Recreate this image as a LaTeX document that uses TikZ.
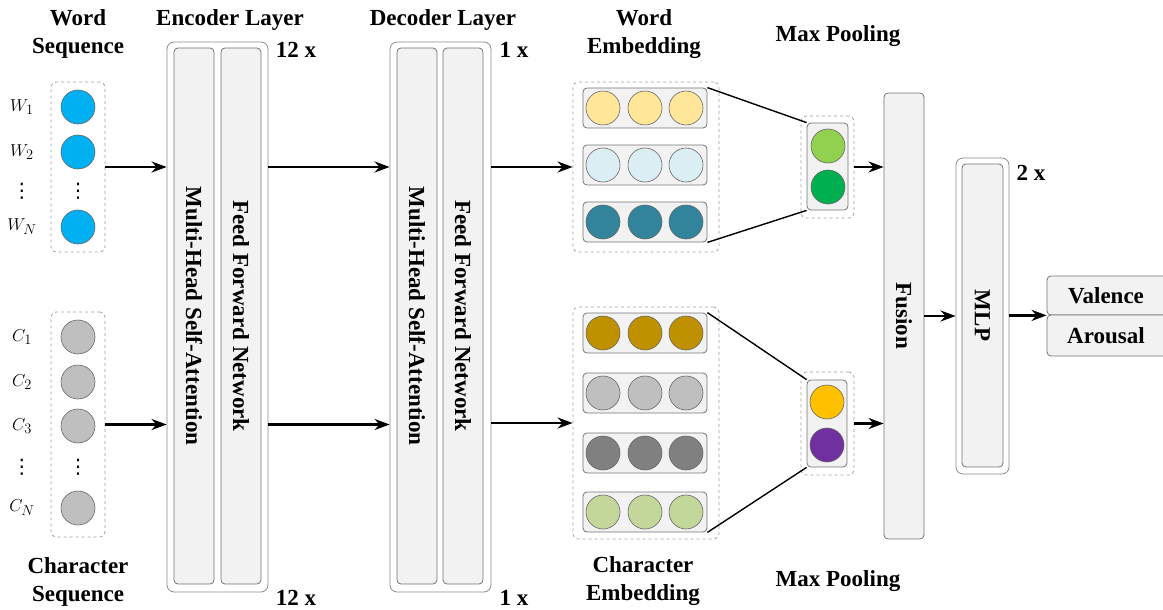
\documentclass[tikz,border=0pt]{standalone}
\usepackage{fontspec}
\setmainfont{Liberation Serif}
\newfontfamily\djv{DejaVu Sans}
\usetikzlibrary{arrows.meta,fit,calc}
\definecolor{wblue}{HTML}{00B0F0}
\definecolor{cgray}{HTML}{BFBFBF}
\definecolor{eyel}{HTML}{FFE699}
\definecolor{eltb}{HTML}{DAEEF3}
\definecolor{eteal}{HTML}{31849B}
\definecolor{egold}{HTML}{BF9000}
\definecolor{elgr}{HTML}{BFBFBF}
\definecolor{edgr}{HTML}{808080}
\definecolor{elgn}{HTML}{C4D79B}
\definecolor{pgn1}{HTML}{92D050}
\definecolor{pgn2}{HTML}{00B050}
\definecolor{porg}{HTML}{FFC000}
\definecolor{ppur}{HTML}{7030A0}
\definecolor{panelfill}{HTML}{F2F2F2}
\begin{document}
\begin{tikzpicture}[x=1pt,y=-1pt,
  dashbox/.style={draw=gray!75, dashed, rounded corners=5pt, line width=0.8pt, inner sep=0pt},
  panel/.style={draw=black!55, fill=panelfill, rounded corners=4pt, line width=0.8pt, inner sep=0pt},
  outerbox/.style={draw=black!45, fill=white, rounded corners=7pt, line width=0.8pt, inner sep=0pt},
  ball/.style={circle, draw=black!60, line width=0.6pt, minimum size=34pt, inner sep=0pt},
  arr/.style={-{Stealth[length=15pt,width=11pt]}, line width=2.8pt},
  ln/.style={line width=1.4pt},
  ttl/.style={font=\bfseries\fontsize{23}{28}\selectfont, align=center},
  vtxt/.style={font=\bfseries\fontsize{23}{24}\selectfont, rotate=-90},
  lbl/.style={font=\fontsize{19}{20}\selectfont, inner sep=0pt},
  dots/.style={font=\djv\fontsize{20}{20}\selectfont, inner sep=0pt}
]
\useasboundingbox (0,0) rectangle (1163,610);

% ---------- Word sequence ----------
\node[ttl] (wsT) at (78,34) {Word\\Sequence};
\node[dashbox, fit={(51,82) (105,252)}] (wseq) {};
\node[ball, fill=wblue] (w1) at (78,107) {};
\node[ball, fill=wblue] (w2) at (78,152) {};
\node[dots] (wd) at (78,191) {⋮};
\node[ball, fill=wblue] (wn) at (78,227) {};
\node[lbl] (lw1) at (22,107) {$W_1$};
\node[lbl] (lw2) at (22,152) {$W_2$};
\node[dots] (lwd) at (22,191) {⋮};
\node[lbl] (lwn) at (22,227) {$W_N$};

% ---------- Character sequence ----------
\node[dashbox, fit={(51,312) (105,537)}] (cseq) {};
\node[ball, fill=cgray] (c1) at (78,337) {};
\node[ball, fill=cgray] (c2) at (78,382) {};
\node[ball, fill=cgray] (c3) at (78,426) {};
\node[dots] (cd) at (78,467) {⋮};
\node[ball, fill=cgray] (cn) at (78,508) {};
\node[lbl] (lc1) at (22,337) {$C_1$};
\node[lbl] (lc2) at (22,382) {$C_2$};
\node[lbl] (lc3) at (22,426) {$C_3$};
\node[dots] (lcd) at (22,467) {⋮};
\node[lbl] (lcn) at (22,508) {$C_N$};
\node[ttl] (csT) at (78,582) {Character\\Sequence};

% ---------- Encoder ----------
\node[ttl] (encT) at (230,20) {Encoder Layer};
\node[outerbox, fit={(167,42) (268,592)}] (enc) {};
\node[panel, fit={(174,48) (214,584)}] (enc1) {};
\node[panel, fit={(221,48) (261,584)}] (enc2) {};
\node[vtxt] at (enc1.center) {Multi-Head Self-Attention};
\node[vtxt] at (enc2.center) {Feed Forward Network};
\node[ttl] (encN1) at (296,50) {12 x};
\node[ttl] (encN2) at (296,598) {12 x};

% ---------- Decoder ----------
\node[ttl] (decT) at (443,20) {Decoder Layer};
\node[outerbox, fit={(390,42) (491,592)}] (dec) {};
\node[panel, fit={(397,48) (437,584)}] (dec1) {};
\node[panel, fit={(443,48) (483,584)}] (dec2) {};
\node[vtxt] at (dec1.center) {Multi-Head Self-Attention};
\node[vtxt] at (dec2.center) {Feed Forward Network};
\node[ttl] (decN1) at (514,50) {1 x};
\node[ttl] (decN2) at (514,598) {1 x};

% ---------- Word embedding ----------
\node[ttl] (weT) at (644,34) {Word\\Embedding};
\node[dashbox, fit={(573,82) (719,252)}] (wemb) {};
\foreach \n/\y/\c in {1/108/eyel,2/165/eltb,3/222/eteal}{
  \node[panel, fit={(583,\y-20) (707,\y+20)}] (wr\n) {};
  \node[ball, fill=\c] (wr\n a) at (603,\y) {};
  \node[ball, fill=\c] (wr\n b) at (645,\y) {};
  \node[ball, fill=\c] (wr\n c) at (686,\y) {};
}

% ---------- Character embedding ----------
\node[dashbox, fit={(573,307) (719,539)}] (cemb) {};
\foreach \n/\y/\c in {1/333/egold,2/393/elgr,3/453/edgr,4/512/elgn}{
  \node[panel, fit={(583,\y-20) (707,\y+20)}] (cr\n) {};
  \node[ball, fill=\c] (cr\n a) at (603,\y) {};
  \node[ball, fill=\c] (cr\n b) at (645,\y) {};
  \node[ball, fill=\c] (cr\n c) at (686,\y) {};
}
\node[ttl] (ceT) at (643,581) {Character\\Embedding};

% ---------- Max pooling ----------
\node[ttl] (wpT) at (838,36) {Max Pooling};
\node[dashbox, fit={(801,116) (854,218)}] (wpool) {};
\node[panel, fit={(807,123) (848,210)}] (wpin) {};
\node[ball, fill=pgn1] (wp1) at (828,146) {};
\node[ball, fill=pgn2] (wp2) at (828,187) {};

\node[ttl] (cpT) at (838,581) {Max Pooling};
\node[dashbox, fit={(801,372) (854,475)}] (cpool) {};
\node[panel, fit={(807,380) (847,467)}] (cpin) {};
\node[ball, fill=porg] (cp1) at (827,402) {};
\node[ball, fill=ppur] (cp2) at (827,445) {};

\draw[ln] (wr1.north east) -- (wpin.north west);
\draw[ln] (wr3.south east) -- (wpin.south west);
\draw[ln] (cr1.north east) -- (cpin.north west);
\draw[ln] (cr4.south east) -- (cpin.south west);

% ---------- Fusion, MLP, outputs ----------
\node[panel, fit={(884,93) (924,539)}] (fus) {};
\node[vtxt] at (fus.center) {Fusion};
\node[outerbox, fit={(956,158) (1009,474)}] (mlp) {};
\node[panel, fit={(962,164) (1003,467)}] (mlpin) {};
\node[vtxt] at (mlpin.center) {MLP};
\node[ttl] (mlpN) at (1031,173) {2 x};
\node[panel, fit={(1047,276) (1172,315)}] (val) {};
\node[ttl] at (1106,296) {Valence};
\node[panel, fit={(1047,315) (1172,356)}] (aro) {};
\node[ttl] at (1106,336) {Arousal};

% ---------- Arrows ----------
\draw[arr] (wseq.east) -- (wseq.east -| enc.west);
\draw[arr] (cseq.east) -- (cseq.east -| enc.west);
\draw[arr] (enc.east |- wseq.east) -- (dec.west |- wseq.east);
\draw[arr] (enc.east |- cseq.east) -- (dec.west |- cseq.east);
\draw[arr] (dec.east |- wemb.west) -- (wemb.west);
\draw[arr] (dec.east |- cemb.west) -- (cemb.west);
\draw[arr] (wpool.east) -- (wpool.east -| fus.west);
\draw[arr] (cpool.east) -- (cpool.east -| fus.west);
\draw[arr] (fus.east) -- (fus.east -| mlp.west);
\draw[arr] (mlp.east |- val.south west) -- (val.south west);
\end{tikzpicture}
\end{document}
